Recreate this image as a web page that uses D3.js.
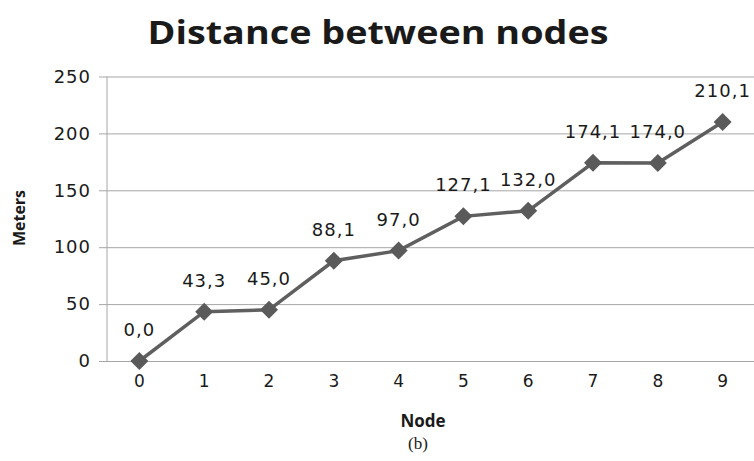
<!DOCTYPE html>
<html>
<head>
<meta charset="utf-8">
<script src="https://cdn.jsdelivr.net/npm/d3@7"></script>
<style>
  body { margin: 0; background: #fff; }
  svg { display: block; }
  text { font-family: "DejaVu Sans", Verdana, sans-serif; fill: #1a1a1a; }
</style>
</head>
<body>
<svg id="chart" width="754" height="461"></svg>
<script>
// data
const nodes = [0, 1, 2, 3, 4, 5, 6, 7, 8, 9];
const meters = [0.0, 43.3, 45.0, 88.1, 97.0, 127.1, 132.0, 174.1, 174.0, 210.1];
const labels = ["0,0", "43,3", "45,0", "88,1", "97,0", "127,1", "132,0", "174,1", "174,0", "210,1"];
const yTicks = [0, 50, 100, 150, 200, 250];

const svg = d3.select("#chart");
const plotLeft = 107, plotRight = 755, plotTop = 76.5, plotBottom = 361;

const x = d3.scaleBand().domain(nodes).range([plotLeft, plotRight]).padding(0);
const y = d3.scaleLinear().domain([0, 250]).range([plotBottom, plotTop]);
const cx = d => x(d) + x.bandwidth() / 2;

// gridlines + y ticks
svg.append("g")
    .attr("transform", `translate(${plotLeft},0)`)
    .call(d3.axisLeft(y).tickValues(yTicks).tickSize(-(plotRight - plotLeft)).tickPadding(16))
    .call(g => g.select(".domain").remove())
    .call(g => g.selectAll(".tick line").attr("stroke", "#a6a6a6").attr("x1", -8))
    .call(g => g.selectAll(".tick text")
        .attr("font-size", 18).attr("letter-spacing", 1)
        .attr("font-family", "DejaVu Sans").attr("fill", "#1a1a1a"));

// vertical axis line
svg.append("line")
    .attr("x1", plotLeft).attr("x2", plotLeft)
    .attr("y1", plotTop).attr("y2", plotBottom)
    .attr("stroke", "#a6a6a6");

// x tick labels
svg.append("g")
    .attr("transform", `translate(0,${plotBottom})`)
    .call(d3.axisBottom(x).tickSize(0).tickPadding(14))
    .call(g => g.select(".domain").remove())
    .call(g => g.selectAll(".tick text")
        .attr("font-size", 17)
        .attr("font-family", "DejaVu Sans").attr("fill", "#1a1a1a"));

// line
const line = d3.line().x((d, i) => cx(nodes[i])).y(d => y(d));
svg.append("path")
    .datum(meters)
    .attr("d", line)
    .attr("fill", "none")
    .attr("stroke", "#5f5f5f")
    .attr("stroke-width", 3.5);

// diamond markers
svg.selectAll(".dot")
    .data(meters)
    .enter()
    .append("path")
    .attr("class", "dot")
    .attr("transform", (d, i) => `translate(${cx(nodes[i])},${y(d)})`)
    .attr("d", "M0,-9L9,0L0,9L-9,0Z")
    .attr("fill", "#5a5a5a");

// value labels
svg.selectAll(".val")
    .data(meters)
    .enter()
    .append("text")
    .attr("class", "val")
    .attr("x", (d, i) => cx(nodes[i]))
    .attr("y", d => y(d) - 25)
    .attr("text-anchor", "middle")
    .attr("font-size", 18)
    .attr("letter-spacing", 1)
    .text((d, i) => labels[i]);

// title
svg.append("text")
    .attr("x", 378).attr("y", 44)
    .attr("text-anchor", "middle")
    .attr("font-weight", "bold")
    .attr("font-size", 33)
    .attr("textLength", 461)
    .attr("lengthAdjust", "spacingAndGlyphs")
    .style("font-family", "'Open Sans', sans-serif")
    .text("Distance between nodes");

// axis titles
svg.append("text")
    .attr("transform", "translate(25,218) rotate(-90)")
    .attr("text-anchor", "middle")
    .attr("font-weight", "bold")
    .attr("font-size", 16)
    .style("font-family", "'Open Sans', sans-serif")
    .text("Meters");

svg.append("text")
    .attr("x", 423).attr("y", 427)
    .attr("text-anchor", "middle")
    .attr("font-weight", "bold")
    .attr("font-size", 17)
    .style("font-family", "'Open Sans', sans-serif")
    .text("Node");

svg.append("text")
    .attr("x", 418).attr("y", 449)
    .attr("text-anchor", "middle")
    .attr("font-size", 17)
    .style("font-family", "'Liberation Serif', serif")
    .text("(b)");
</script>
</body>
</html>
